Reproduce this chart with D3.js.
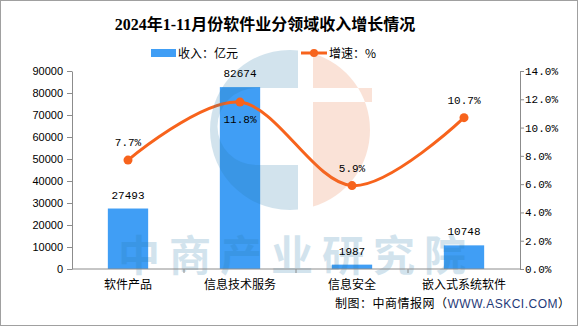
<!DOCTYPE html>
<html><head><meta charset="utf-8">
<script src="https://cdn.jsdelivr.net/npm/d3@7/dist/d3.min.js"></script>
<style>
html,body{margin:0;padding:0;background:#fff;}
svg{display:block;}
</style></head>
<body>
<svg id="chart" width="578" height="326"></svg>
<script>
const categories = ["软件产品", "信息技术服务", "信息安全", "嵌入式系统软件"];
const revenue = [27493, 82674, 1987, 10748];
const growth = [7.7, 11.8, 5.9, 10.7];
const growthLabelSide = ["top", "bottom", "top", "top"];
const leftTicks = [0, 10000, 20000, 30000, 40000, 50000, 60000, 70000, 80000, 90000];
const rightTicks = [0, 2, 4, 6, 8, 10, 12, 14];
const title = "2024年1-11月份软件业分领域收入增长情况";
const legendBar = "收入：亿元";
const legendLine = "增速：%";
const watermarkText = "中商产业研究院";
const sourcePrefix = "制图：中商情报网（";
const sourceSite = "WWW.ASKCI.COM";
const sourceSuffix = "）";

const svg = d3.select("#chart");
const W = 578, H = 326;
const plot = {left: 72, right: 520, top: 71, bottom: 269};
const barColor = "#409EF5", lineColor = "#F7631C", axisColor = "#8C8C8C";
const monoFont = "'Liberation Mono','DejaVu Sans Mono',monospace";
const cjkFont = "'Noto Sans CJK SC','Noto Sans',sans-serif";

svg.append("rect").attr("x",0.5).attr("y",0.5).attr("width",W-1).attr("height",H-1)
  .attr("fill","#fff").attr("stroke","#A0A0A0");

const x = d3.scaleBand().domain(categories).range([plot.left, plot.right]).padding(0);
const yL = d3.scaleLinear().domain([0, 90000]).range([plot.bottom, plot.top]);
const yR = d3.scaleLinear().domain([0, 14]).range([plot.bottom, plot.top]);
const bw = x.bandwidth()*0.36;

// title
svg.append("text").attr("x",265).attr("y",30).attr("text-anchor","middle")
  .attr("font-family","'Liberation Serif','Noto Sans CJK SC',serif").attr("font-weight","bold")
  .attr("font-size",16).attr("fill","#000").text(title);

// legend
const lg = svg.append("g");
lg.append("rect").attr("x",151).attr("y",49).attr("width",25).attr("height",8).attr("fill",barColor);
lg.append("text").attr("x",178).attr("y",57.5).attr("font-family",cjkFont).attr("font-size",12).text(legendBar);
lg.append("line").attr("x1",301).attr("x2",327).attr("y1",53).attr("y2",53).attr("stroke",lineColor).attr("stroke-width",3);
lg.append("circle").attr("cx",314).attr("cy",53).attr("r",4).attr("fill",lineColor);
lg.append("text").attr("x",329).attr("y",57.5).attr("font-family",cjkFont).attr("font-size",12).text(legendLine);

// bars
svg.append("g").selectAll("rect").data(revenue).join("rect")
  .attr("x",(d,i)=>x(categories[i])+(x.bandwidth()-bw)/2)
  .attr("y",d=>yL(d)).attr("width",bw).attr("height",d=>plot.bottom-yL(d))
  .attr("fill",barColor);

// line
const pts = growth.map((v,i)=>[x(categories[i])+x.bandwidth()/2, yR(v)]);
svg.append("path").datum(pts)
  .attr("d", d3.line().curve(d3.curveCatmullRom.alpha(0)))
  .attr("fill","none").attr("stroke",lineColor).attr("stroke-width",3);
svg.append("g").selectAll("circle").data(pts).join("circle")
  .attr("cx",d=>d[0]).attr("cy",d=>d[1]).attr("r",4.5).attr("fill",lineColor);

// watermark
const wm = svg.append("g").attr("opacity",0.2);
const cx0 = 290, cy0 = 130, R = 80;
wm.append("path")
  .attr("d", (()=>{
    const p = d3.path();
    const a0 = -Math.PI/2 + Math.asin(8/R);
    p.moveTo(cx0 + R*Math.cos(a0), cy0 + R*Math.sin(a0));
    p.arc(cx0, cy0, R, a0, Math.PI/2 - Math.asin(8/R), true);
    p.closePath();
    p.moveTo(298, 88);
    p.lineTo(256, 88);
    p.arc(256, 126.5, 38.5, -Math.PI/2, Math.PI/2, true);
    p.lineTo(298, 165);
    p.closePath();
    return p.toString();
  })())
  .attr("fill","#2378AA").attr("fill-rule","evenodd");
wm.append("path")
  .attr("d", (()=>{
    const p = d3.path();
    const dx = 313 - cx0;
    const a0 = -Math.PI/2 + Math.asin(dx/R);
    p.moveTo(313, cy0 + R*Math.sin(a0));
    p.arc(cx0, cy0, R, a0, Math.PI/2 - Math.asin(dx/R), false);
    p.closePath();
    p.moveTo(313, 88); p.lineTo(372, 88); p.lineTo(372, 102); p.lineTo(313, 102); p.closePath();
    return p.toString();
  })())
  .attr("fill","#EB733C").attr("fill-rule","evenodd");
wm.append("text").attr("x",118).attr("y",271).attr("font-family",cjkFont).attr("font-weight","bold")
  .attr("font-size",42).attr("letter-spacing",9).attr("fill","#2378AA").text(watermarkText);

// axes
const axL = svg.append("g").attr("transform",`translate(${plot.left},0)`)
  .call(d3.axisLeft(yL).tickValues(leftTicks).tickSize(5).tickSizeOuter(0).tickPadding(4).tickFormat(d3.format("d")));
const axR = svg.append("g").attr("transform",`translate(${plot.right},0)`)
  .call(d3.axisRight(yR).tickValues(rightTicks).tickSize(4).tickSizeOuter(0).tickPadding(1).tickFormat(d=>d.toFixed(1)+"%"));
[axL, axR].forEach(a=>{
  a.select(".domain").attr("stroke",axisColor);
  a.selectAll(".tick line").attr("stroke",axisColor);
  a.selectAll(".tick text").attr("fill","#000");
});
axL.selectAll(".tick text").attr("font-family","'Liberation Sans',Arial,sans-serif").attr("font-size",11);
axR.selectAll(".tick text").attr("font-family",monoFont).attr("font-size",11);

// bottom axis
const axB = svg.append("g");
axB.append("line").attr("x1",plot.left).attr("x2",plot.right).attr("y1",plot.bottom).attr("y2",plot.bottom).attr("stroke",axisColor);
axB.selectAll("line.t").data(categories.slice(1)).join("line").attr("class","t")
  .attr("x1",d=>x(d)).attr("x2",d=>x(d)).attr("y1",plot.bottom).attr("y2",plot.bottom+4).attr("stroke",axisColor);
axB.selectAll("text").data(categories).join("text")
  .attr("x",d=>x(d)+x.bandwidth()/2).attr("y",288.5).attr("text-anchor","middle")
  .attr("font-family",cjkFont).attr("font-size",12).attr("fill","#000").text(d=>d);

// bar labels
svg.append("g").selectAll("text").data(revenue).join("text")
  .attr("x",(d,i)=>x(categories[i])+x.bandwidth()/2).attr("y",d=>yL(d)-10)
  .attr("text-anchor","middle").attr("font-family",monoFont).attr("font-size",11).attr("fill","#000")
  .text(d=>d);
// line labels
svg.append("g").selectAll("text").data(growth).join("text")
  .attr("x",(d,i)=>pts[i][0]).attr("y",(d,i)=>growthLabelSide[i]==="top" ? pts[i][1]-14 : pts[i][1]+21)
  .attr("text-anchor","middle").attr("font-family",monoFont).attr("font-size",11).attr("fill","#000")
  .text(d=>d.toFixed(1)+"%");

// source
const src = svg.append("text").attr("x",335).attr("y",307.5).attr("font-family",cjkFont).attr("font-size",12)
  .attr("letter-spacing",0.5).attr("fill","#000");
src.append("tspan").text(sourcePrefix);
src.append("tspan").attr("fill","#1F3A78").attr("font-family","'Liberation Sans',Arial,sans-serif").text(sourceSite);
src.append("tspan").text(sourceSuffix);
</script>
</body></html>
